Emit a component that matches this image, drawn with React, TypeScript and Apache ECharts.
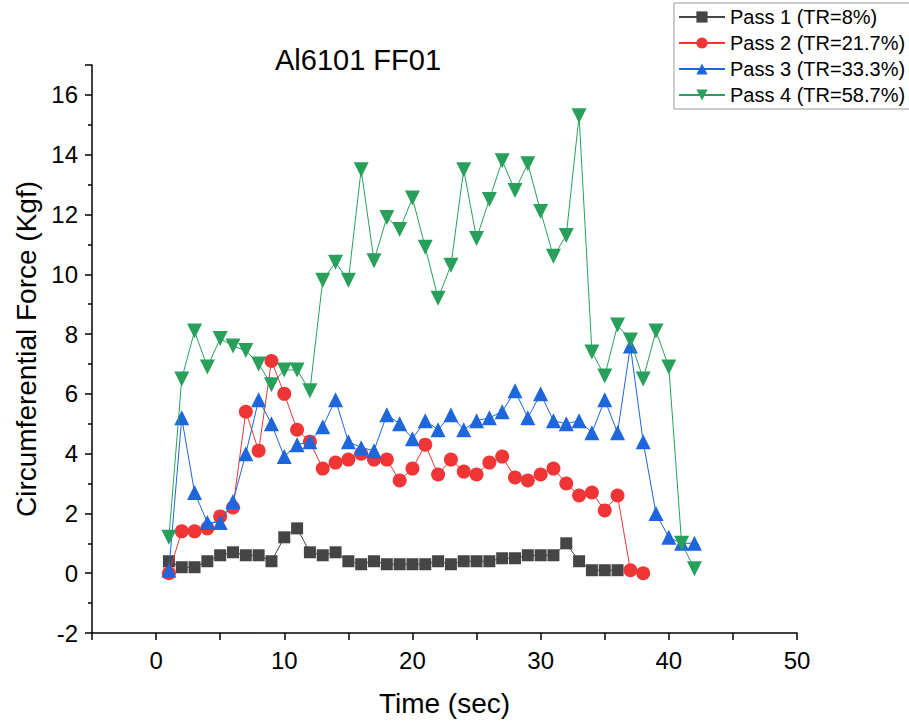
import React, { useEffect, useRef } from "react";
import * as echarts from "echarts";

const time = [1, 2, 3, 4, 5, 6, 7, 8, 9, 10, 11, 12, 13, 14, 15, 16, 17, 18, 19, 20, 21, 22, 23, 24, 25, 26, 27, 28, 29, 30, 31, 32, 33, 34, 35, 36, 37, 38, 39, 40, 41, 42];

const pass1 = [0.4, 0.2, 0.2, 0.4, 0.6, 0.7, 0.6, 0.6, 0.4, 1.2, 1.5, 0.7, 0.6, 0.7, 0.4, 0.3, 0.4, 0.3, 0.3, 0.3, 0.3, 0.4, 0.3, 0.4, 0.4, 0.4, 0.5, 0.5, 0.6, 0.6, 0.6, 1.0, 0.4, 0.1, 0.1, 0.1];
const pass2 = [0, 1.4, 1.4, 1.5, 1.9, 2.2, 5.4, 4.1, 7.1, 6.0, 4.8, 4.4, 3.5, 3.7, 3.8, 4.0, 3.8, 3.8, 3.1, 3.5, 4.3, 3.3, 3.8, 3.4, 3.3, 3.7, 3.9, 3.2, 3.1, 3.3, 3.5, 3.0, 2.6, 2.7, 2.1, 2.6, 0.1, 0.0];
const pass3 = [0.1, 5.2, 2.7, 1.7, 1.7, 2.4, 4.0, 5.8, 5.0, 3.9, 4.3, 4.4, 4.9, 5.8, 4.4, 4.2, 4.1, 5.3, 5.0, 4.5, 5.1, 4.8, 5.3, 4.8, 5.1, 5.2, 5.4, 6.1, 5.2, 6.0, 5.1, 5.0, 5.1, 4.7, 5.8, 4.7, 7.6, 4.4, 2.0, 1.2, 1.0, 1.0];
const pass4 = [1.2, 6.5, 8.1, 6.9, 7.85, 7.6, 7.45, 7.0, 6.3, 6.8, 6.8, 6.1, 9.8, 10.4, 9.8, 13.5, 10.45, 11.9, 11.5, 12.55, 10.9, 9.2, 10.3, 13.5, 11.2, 12.5, 13.8, 12.8, 13.7, 12.1, 10.6, 11.3, 15.3, 7.4, 6.6, 8.3, 7.8, 6.5, 8.1, 6.9, 1.0, 0.15];

const seriesNames = ["Pass 1 (TR=8%)", "Pass 2 (TR=21.7%)", "Pass 3 (TR=33.3%)", "Pass 4 (TR=58.7%)"];
const colors = ["#454545", "#ef3535", "#1d66dc", "#28a05c"];

const FONT = "Arial, 'Liberation Sans', sans-serif";

function pairs(vals: number[]) {
  return vals.map((v, i) => [time[i], v]);
}

export default function App() {
  const ref = useRef<HTMLDivElement>(null);
  useEffect(() => {
    if (!ref.current) return;
    const chart = echarts.init(ref.current, null, { renderer: "svg" });
    const symbols = [
      { symbol: "rect", size: 12, rotate: 0 },
      { symbol: "circle", size: 14, rotate: 0 },
      { symbol: "triangle", size: 15, rotate: 0 },
      { symbol: "triangle", size: 15, rotate: 180 },
    ];
    const data = [pass1, pass2, pass3, pass4];
    chart.setOption({
      animation: false,
      backgroundColor: "#ffffff",
      title: {
        text: "Al6101 FF01",
        left: 270,
        top: 40,
        textStyle: { fontFamily: FONT, fontSize: 29, fontWeight: "normal", color: "#000" },
      },
      legend: {
        orient: "vertical",
        left: 674,
        top: 3,
        padding: [4, 8, 4, 4],
        borderColor: "#999",
        borderWidth: 1,
        itemGap: 6,
        itemWidth: 46,
        itemHeight: 14,
        textStyle: { fontFamily: FONT, fontSize: 20, color: "#000" },
        data: seriesNames,
      },
      grid: { left: 92, right: 112, top: 65, bottom: 87 },
      xAxis: {
        type: "value",
        min: -5,
        max: 50,
        interval: 5,
        name: "Time (sec)",
        nameLocation: "middle",
        nameGap: 56,
        nameTextStyle: { fontFamily: FONT, fontSize: 28, color: "#000" },
        axisLine: { onZero: false, lineStyle: { color: "#000", width: 1.5 } },
        axisTick: { show: true, length: 7, lineStyle: { color: "#000", width: 1.5 } },
        axisLabel: {
          fontFamily: FONT,
          fontSize: 24,
          color: "#000",
          margin: 15,
          formatter: (v: number) => (v % 10 === 0 ? String(v) : ""),
        },
        splitLine: { show: false },
      },
      yAxis: {
        type: "value",
        min: -2,
        max: 17,
        interval: 2,
        name: "Circumferential Force (Kgf)",
        nameLocation: "middle",
        nameGap: 48,
        nameTextStyle: { fontFamily: FONT, fontSize: 28, color: "#000" },
        axisLine: { show: true, onZero: false, lineStyle: { color: "#000", width: 1.5 } },
        axisTick: { show: true, length: 7, lineStyle: { color: "#000", width: 1.5 } },
        minorTick: { show: true, splitNumber: 2, length: 4, lineStyle: { color: "#000", width: 1.5 } },
        axisLabel: {
          fontFamily: FONT,
          fontSize: 24,
          color: "#000",
          margin: 14,
          formatter: (v: number) => (v % 2 === 0 ? String(v) : ""),
        },
        splitLine: { show: false },
      },
      series: data.map((vals, i) => ({
        name: seriesNames[i],
        type: "line",
        data: pairs(vals),
        symbol: symbols[i].symbol,
        symbolSize: symbols[i].size,
        symbolRotate: symbols[i].rotate,
        showAllSymbol: true,
        color: colors[i],
        itemStyle: { color: colors[i] },
        lineStyle: { color: colors[i], width: 1 },
        z: 2 + i,
      })),
    });
    return () => chart.dispose();
  }, []);
  return (
    <div
      ref={ref}
      style={{ position: "fixed", left: 0, top: 0, width: 909, height: 722, background: "#fff" }}
    />
  );
}
